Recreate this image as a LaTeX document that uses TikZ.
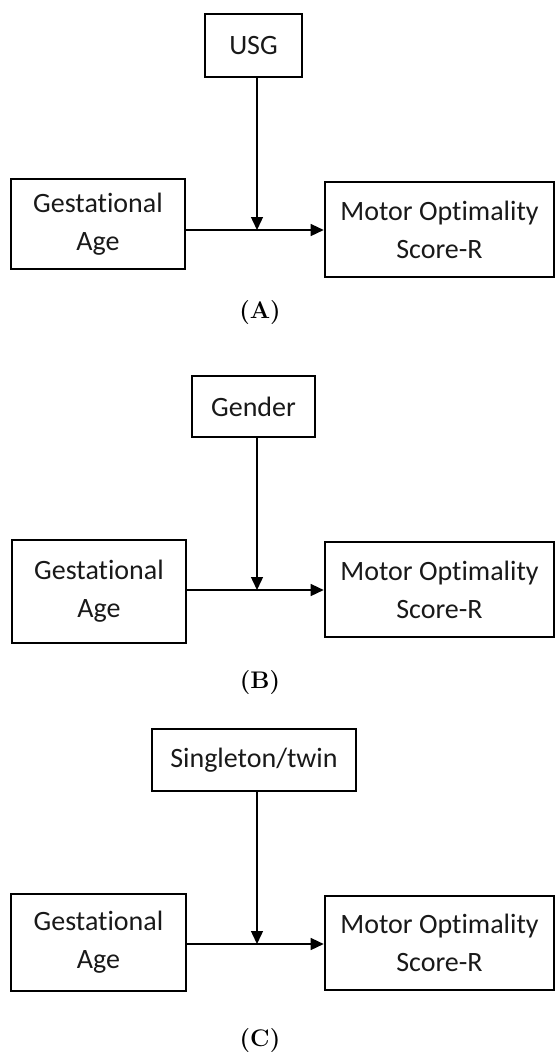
\documentclass[tikz,border=0pt]{standalone}
\usepackage{fontspec}
\setmainfont{Carlito}[Ligatures={NoCommon}]
\newfontfamily\lmfont{Latin Modern Roman}
\usetikzlibrary{arrows.meta}
\tikzset{
  box/.style={draw=black, line width=2.6pt, inner sep=0pt, align=center,
    font=\fontsize{28}{38}\selectfont, text=black!90},
  conn/.style={line width=1.4pt, -{Triangle[length=13pt,width=12pt]}},
  panel/.style={font=\lmfont\bfseries\fontsize{24}{28}\selectfont, inner sep=0pt}
}
\begin{document}
\begin{tikzpicture}[x=1pt,y=-1pt]
\useasboundingbox (0,0) rectangle (556,1053);
% ---------- Panel A ----------
\node[box, minimum width=97pt, minimum height=63pt] (usg) at (253.5,45.5) {USG};
\node[box, minimum width=174pt, minimum height=90pt] (gaA) at (98,224) {Gestational\\Age};
\node[box, minimum width=229pt, minimum height=95pt] (mosA) at (439.5,229.5) {Motor Optimality\\Score-R};
\coordinate (jA) at (257,230);
\draw[conn] (gaA.east |- jA) -- (mosA.west |- jA);
\draw[conn] (usg.south -| jA) -- (jA);
\node[panel] (labA) at (260,313) {(A)};
% ---------- Panel B ----------
\node[box, minimum width=123pt, minimum height=61pt] (gender) at (253.5,406.5) {Gender};
\node[box, minimum width=174pt, minimum height=103pt] (gaB) at (99,591.5) {Gestational\\Age};
\node[box, minimum width=229pt, minimum height=95pt] (mosB) at (439.5,589.5) {Motor Optimality\\Score-R};
\coordinate (jB) at (257,590);
\draw[conn] (gaB.east |- jB) -- (mosB.west |- jB);
\draw[conn] (gender.south -| jB) -- (jB);
\node[panel] (labB) at (260,683) {(B)};
% ---------- Panel C ----------
\node[box, minimum width=204pt, minimum height=62pt] (twin) at (254,760) {Singleton/twin};
\node[box, minimum width=175pt, minimum height=97pt] (gaC) at (98.5,942.5) {Gestational\\Age};
\node[box, minimum width=229pt, minimum height=94pt] (mosC) at (439.5,943) {Motor Optimality\\Score-R};
\coordinate (jC) at (257,944);
\draw[conn] (gaC.east |- jC) -- (mosC.west |- jC);
\draw[conn] (twin.south -| jC) -- (jC);
\node[panel] (labC) at (260,1040) {(C)};
\end{tikzpicture}
\end{document}
